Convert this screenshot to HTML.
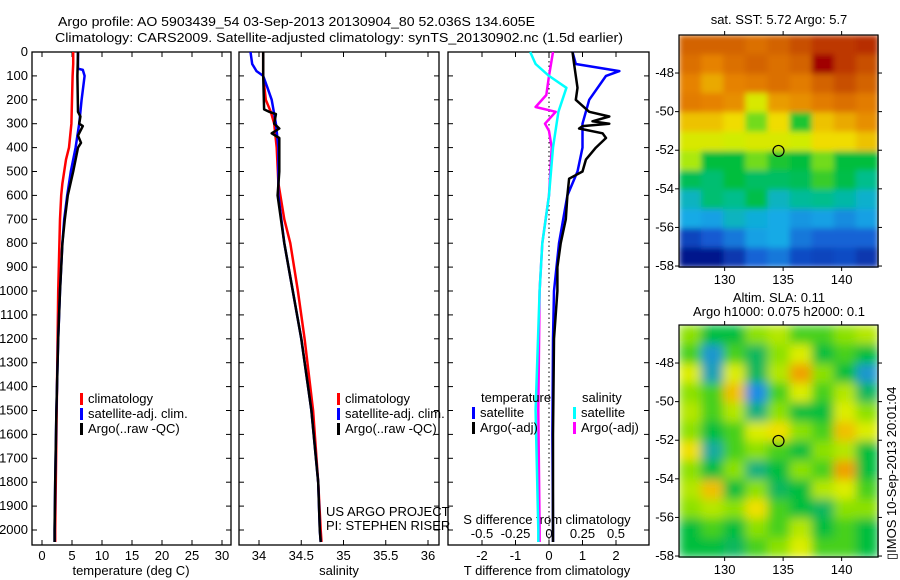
<!DOCTYPE html>
<html><head><meta charset="utf-8"><style>
body{margin:0;background:#fff;width:900px;height:580px;overflow:hidden}
svg{display:block;font-family:"Liberation Sans",sans-serif}
text{font-size:13px;fill:#000}
</style></head><body>
<svg id="chart" width="900" height="580" viewBox="0 0 900 580">
<defs>
<filter id="blurS" x="0" y="0" width="1" height="1"><feGaussianBlur stdDeviation="3" edgeMode="duplicate"/></filter>
<filter id="blurL" x="0" y="0" width="1" height="1"><feGaussianBlur stdDeviation="5" edgeMode="duplicate"/></filter>
</defs>
<text x="58" y="26" font-size="14" textLength="477" lengthAdjust="spacingAndGlyphs">Argo profile: AO 5903439_54 03-Sep-2013 20130904_80 52.036S 134.605E</text>
<text x="55" y="42" font-size="14" textLength="568" lengthAdjust="spacingAndGlyphs">Climatology: CARS2009. Satellite-adjusted climatology: synTS_20130902.nc (1.5d earlier)</text>
<text x="779" y="24" text-anchor="middle">sat. SST: 5.72 Argo: 5.7</text>
<text x="779" y="302" text-anchor="middle">Altim. SLA: 0.11</text>
<text x="779" y="316" text-anchor="middle">Argo h1000: 0.075 h2000: 0.1</text>
<text transform="translate(896,560) rotate(-90)">▯IMOS 10-Sep-2013 20:01:04</text>
<g id="sstCells" filter="url(#blurS)"></g>
<g id="slaCells" filter="url(#blurL)"></g>
<g id="g"></g>
</svg>
<script>
// ---- data ----
const depthTicks=[0,100,200,300,400,500,600,700,800,900,1000,1100,1200,1300,1400,1500,1600,1700,1800,1900,2000];
const tempTicks=[0,5,10,15,20,25,30];
const salTicks=[34,34.5,35,35.5,36];
const salTickLabels=['34','34.5','35','35.5','36'];
const tdTicks=[-2,-1,0,1,2];
const sdTicks=[-0.5,-0.25,0,0.25,0.5];
const sdTickLabels=['-0.5','-0.25','0','0.25','0.5'];

const tClimDepth=[0,50,100,200,300,350,400,450,500,550,600,700,800,900,1000,1200,1400,1600,1800,2000,2050];
const tClim=[5.2,5.2,5.1,5.0,4.9,4.7,4.5,4.0,3.7,3.4,3.2,3.0,2.9,2.8,2.7,2.6,2.5,2.4,2.3,2.2,2.2];
const tSatDepth=[0,70,75,100,200,300,400,500,600,700,800,1000,1200,1500,1800,2000,2050];
const tSat=[6.0,6.0,6.8,7.1,6.6,6.2,5.6,4.8,4.2,3.7,3.4,3.0,2.7,2.4,2.2,2.1,2.1];
const tArgoDepth=[0,100,250,270,300,310,350,380,400,500,600,700,800,1000,1200,1500,1800,2000,2050];
const tArgo=[6.0,5.9,6.0,6.4,6.2,6.8,6.0,6.5,6.0,5.2,4.3,3.8,3.4,3.0,2.7,2.4,2.2,2.1,2.1];

const sClimDepth=[0,100,200,250,300,400,550,700,800,1000,1200,1500,1800,2000,2050];
const sClim=[34.05,34.05,34.08,34.14,34.18,34.21,34.23,34.3,34.37,34.46,34.54,34.64,34.7,34.73,34.74];
const sSatDepth=[0,50,80,100,150,200,300,400,600,800,1000,1200,1500,1800,2000,2050];
const sSat=[33.9,33.92,33.97,34.05,34.1,34.15,34.2,34.23,34.23,34.3,34.4,34.5,34.62,34.7,34.72,34.73];
const sArgoDepth=[0,100,240,250,260,300,320,340,360,400,500,600,800,1000,1200,1500,1800,2000,2050];
const sArgo=[34.05,34.05,34.06,34.12,34.2,34.18,34.24,34.15,34.24,34.24,34.24,34.22,34.3,34.4,34.5,34.62,34.7,34.72,34.73];

const tdDepth=[0,50,80,100,200,300,400,500,600,800,1000,1200,1600,2000,2050];
const tdSat=[0.7,0.8,2.1,1.7,1.2,1.0,1.0,0.85,0.55,0.3,0.15,0.12,0.1,0.12,0.12];
const tdArgoDepth=[0,50,100,150,200,250,270,290,300,310,320,340,360,400,450,500,530,600,700,800,900,1000,1200,1600,2000,2050];
const tdArgo=[0.7,0.75,0.8,0.85,0.8,1.2,1.8,1.3,1.8,1.0,0.9,1.6,1.7,1.4,1.1,1.0,0.6,0.55,0.5,0.35,0.25,0.25,0.15,0.12,0.12,0.12];
const sdDepth=[0,50,100,150,250,400,600,800,1000,1500,2000,2050];
const sdSat=[-0.14,-0.1,0.0,0.13,0.07,0.03,0.0,-0.05,-0.07,-0.1,-0.08,-0.08];
const sdArgoDepth=[0,100,180,230,250,300,330,400,600,800,1000,1500,2000,2050];
const sdArgo=[0.03,0.0,-0.02,-0.1,0.05,-0.03,0.0,0.02,0.0,-0.05,-0.07,-0.08,-0.07,-0.07];

const mapLonTicks=[130,135,140];
const mapLatTicks=[-48,-50,-52,-54,-56,-58];
const floatLon=134.605, floatLat=-52.036;
const sstGrid=[
[8,8,8,7.8,8,8.3,8.5,8.5,8.6],
[7.8,7.5,7.8,8,7.8,8,9,8.5,8.3],
[7.5,7.2,7.5,7.6,7.8,7.6,8,8.3,8],
[7.6,7.5,7.4,6.5,7.3,7.4,7.6,7.8,7.6],
[7,7,6.8,6,6.8,5.7,7,7.2,7.4],
[6.5,6.5,6.4,6.5,6.5,6.4,6.8,6.8,7],
[6.2,5.6,5.6,6,5.7,5.6,6,5.6,5.6],
[5.4,5.2,5.6,5.3,5.3,5.4,5.8,5.5,5],
[4.6,5.2,5,5.5,4.6,4.9,5,4.8,4.5],
[4.3,4.2,4.6,4.4,4.3,4.1,4.2,4.0,4.2],
[3.2,3.5,3.8,4.2,4.3,3.8,3.6,3.6,3.6],
[2.5,2.5,3.0,3.6,3.8,3.3,3.2,3.3,3.0]];
const slaGrid=[
[0.2,0,0,0.2,0.3,0.1,0.1,0.2,0.3],
[0.1,-0.5,0.1,-0.1,0.2,0.4,0.0,0.1,0.0],
[0.4,-0.4,0.4,-0.1,0.3,0.7,0.2,0.0,-0.5],
[0.2,0.1,0.6,-0.6,0.1,0.4,0.1,0.3,-0.1],
[0.3,0.1,0.3,-0.2,0.2,0.0,0.0,0.4,0.2],
[0.2,0.0,0.1,0.4,0.5,0.2,0.1,0.6,0.4],
[0.5,-0.3,0.1,0.2,0.1,0.0,0.2,0.3,0.0],
[0.2,0.0,0.2,-0.2,0.0,0.2,0.1,0.7,0.0],
[0.3,0.6,0.0,0.2,-0.1,0.0,0.3,0.4,0.1],
[0.2,0.3,0.2,0.5,0.1,0.0,-0.1,0.2,0.2],
[0.0,0.1,0.0,0.2,0.1,0.3,0.0,0.1,0.0],
[0.0,0.0,-0.1,0.1,0.2,0.4,0.1,0.1,0.0]];

// ---- helpers ----
const NS='http://www.w3.org/2000/svg';
const G=document.getElementById('g');
function mk(tag,attrs,name,parent){const e=document.createElementNS(NS,tag);for(const k in attrs)e.setAttribute(k,attrs[k]);


(parent||G).appendChild(e);return e;}
function txt(x,y,s,anchor,name){const t=mk('text',{x:x,y:y,'text-anchor':anchor||'start'},name);t.textContent=s;return t;}
const yTop=52,yBot=545;
const yD=d=>yTop+d*0.239;
function panel(x0,x1,name){mk('rect',{x:x0,y:yTop,width:x1-x0,height:yBot-yTop,fill:'none',stroke:'#000','stroke-width':1.3},name);}
function yTicks(x0,x1,labels){depthTicks.forEach(d=>{const y=yD(d);
mk('line',{x1:x0,x2:x0+5,y1:y,y2:y,stroke:'#000'},'y-tick');
mk('line',{x1:x1-5,x2:x1,y1:y,y2:y,stroke:'#000'},'y-tick');
if(labels)txt(x0-4,y+4,String(d),'end','y-tick-label');});}
function xTicks(vals,fx,labs,ly,name){vals.forEach((v,i)=>{const x=fx(v);
mk('line',{x1:x,x2:x,y1:yBot,y2:yBot-5,stroke:'#000'},'x-tick');
mk('line',{x1:x,x2:x,y1:yTop,y2:yTop+5,stroke:'#000'},'x-tick');
txt(x,ly,labs[i],'middle',name);});}
function series(ds,vs,fx,color,name,w){mk('polyline',{points:ds.map((d,i)=>fx(vs[i]).toFixed(1)+','+yD(d).toFixed(1)).join(' '),fill:'none',stroke:color,'stroke-width':w||2.5,'stroke-linejoin':'round'},name);}
function legend(x,y,items){items.forEach((it,i)=>{mk('rect',{x:x,y:y+i*15-9,width:3,height:12,fill:it[0]},'legend-swatch');txt(x+8,y+i*15+1,it[1],'start','legend-entry');});}

// panel 1: temperature
const fT=v=>42+v*6;
panel(32,231,'temperature-panel');
yTicks(32,231,true);
xTicks(tempTicks,fT,tempTicks.map(String),560,'temperature-tick-label');
txt(131,575,'temperature (deg C)','middle','temperature-axis-title');
series(tClimDepth,tClim,fT,'#f00','temp-climatology-line');
series(tSatDepth,tSat,fT,'#00f','temp-satellite-line');
series(tArgoDepth,tArgo,fT,'#000','temp-argo-line');
legend(80,402,[['#f00','climatology'],['#00f','satellite-adj. clim.'],['#000','Argo(..raw -QC)']]);

// panel 2: salinity
const fS=v=>259+(v-34)*84.5;
panel(239,439,'salinity-panel');
yTicks(239,439,false);
xTicks(salTicks,fS,salTickLabels,560,'salinity-tick-label');
txt(339,575,'salinity','middle','salinity-axis-title');
series(sClimDepth,sClim,fS,'#f00','sal-climatology-line');
series(sSatDepth,sSat,fS,'#00f','sal-satellite-line');
series(sArgoDepth,sArgo,fS,'#000','sal-argo-line');
legend(337,402,[['#f00','climatology'],['#00f','satellite-adj. clim.'],['#000','Argo(..raw -QC)']]);
txt(326,516,'US ARGO PROJECT','start','project-label');
txt(326,530,'PI: STEPHEN RISER','start','pi-label');

// panel 3: differences
const fTD=v=>549+v*33.5;
const fSD=v=>549+v*134;
panel(448,649,'difference-panel');
yTicks(448,649,false);
mk('line',{x1:549,x2:549,y1:yTop,y2:yBot,stroke:'#000','stroke-dasharray':'1.5,3'},'zero-line');
xTicks(tdTicks,fTD,tdTicks.map(String),560,'t-diff-tick-label');
sdTicks.forEach((v,i)=>txt(fSD(v),538,sdTickLabels[i],'middle','s-diff-tick-label'));
txt(547,524,'S difference from climatology','middle','s-diff-axis-title');
txt(547,575,'T difference from climatology','middle','t-diff-axis-title');
series(sdArgoDepth,sdArgo,fSD,'#f0f','s-diff-argo-line');
series(sdDepth,sdSat,fSD,'#0ff','s-diff-satellite-line');
series(tdDepth,tdSat,fTD,'#00f','t-diff-satellite-line');
series(tdArgoDepth,tdArgo,fTD,'#000','t-diff-argo-line');
txt(481,402,'temperature','start','legend-title-temperature');
txt(582,402,'salinity','start','legend-title-salinity');
legend(472,416,[['#00f','satellite'],['#000','Argo(-adj)']]);
legend(573,416,[['#0ff','satellite'],['#f0f','Argo(-adj)']]);

// maps
const mx0=679,mx1=878;
const lonX=l=>679+(l-126.1)*11.7;
function cmap(stops,v){if(v<=stops[0][0])return 'rgb('+stops[0][1].join(',')+')';for(let i=1;i<stops.length;i++){if(v<=stops[i][0]){const a=stops[i-1],b=stops[i],t=(v-a[0])/(b[0]-a[0]);
const c=a[1].map((x,k)=>Math.round(x+(b[1][k]-x)*t));return 'rgb('+c.join(',')+')';}}return 'rgb('+stops[stops.length-1][1].join(',')+')';}
const sstStops=[[2.5,[0,20,140]],[3.5,[20,90,210]],[4.3,[20,170,230]],[5.0,[0,190,140]],[5.6,[0,190,60]],[6.3,[200,240,0]],[6.8,[240,220,0]],[7.5,[230,130,0]],[8.3,[200,80,0]],[9,[160,0,0]]];
const slaStops=[[-0.6,[30,140,230]],[-0.3,[20,170,160]],[0,[0,190,60]],[0.2,[140,225,0]],[0.45,[240,240,0]],[0.7,[240,160,0]]];
function map(y0,y1,grid,stops,name,cellGroup){
const latY=l=>y0+(-46.03-l)*(y1-y0)/12.02;
const rows=grid.length,cols=grid[0].length,cw=(mx1-mx0)/cols,ch=(y1-y0)/rows;
grid.forEach((r,i)=>r.forEach((v,j)=>{mk('rect',{x:(mx0+j*cw).toFixed(1),y:(y0+i*ch).toFixed(1),width:(cw+0.6).toFixed(1),height:(ch+0.6).toFixed(1),fill:cmap(stops,v)},'heatmap-cell',cellGroup);}));
mk('rect',{x:mx0,y:y0,width:mx1-mx0,height:y1-y0,fill:'none',stroke:'#000','stroke-width':1.2},name);
mapLonTicks.forEach(l=>{const x=lonX(l);mk('line',{x1:x,x2:x,y1:y0-4,y2:y0,stroke:'#000'},'map-lon-tick');mk('line',{x1:x,x2:x,y1:y1,y2:y1+4,stroke:'#000'},'map-lon-tick');txt(x,y1+17,String(l),'middle','map-lon-label');});
mapLatTicks.forEach(l=>{const y=latY(l);mk('line',{x1:mx0-4,x2:mx0,y1:y,y2:y,stroke:'#000'},'map-lat-tick');mk('line',{x1:mx1,x2:mx1+4,y1:y,y2:y,stroke:'#000'},'map-lat-tick');txt(mx0-5,y+4,String(l),'end','map-lat-label');});
mk('circle',{cx:lonX(floatLon),cy:latY(floatLat),r:5.5,fill:'none',stroke:'#000','stroke-width':1.2},'float-location-marker');}
map(35,267,sstGrid,sstStops,'sst-map',document.getElementById('sstCells'));
map(325,557,slaGrid,slaStops,'sla-map',document.getElementById('slaCells'));
</script>
</body></html>
